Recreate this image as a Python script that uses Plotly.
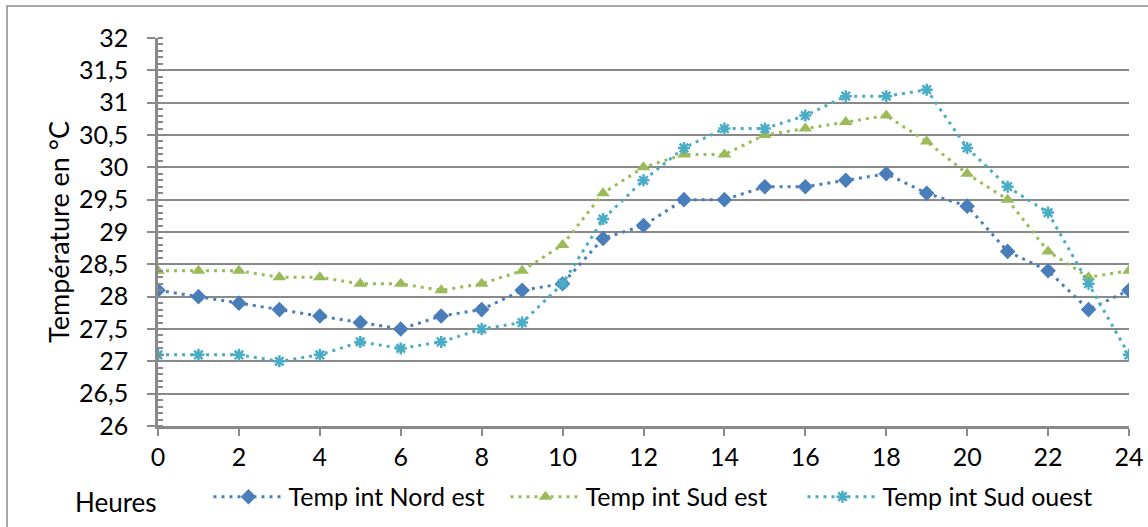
import plotly.graph_objects as go

# données
heures = list(range(0, 25))
nord_est = [28.1, 28.0, 27.9, 27.8, 27.7, 27.6, 27.5, 27.7, 27.8, 28.1, 28.2, 28.9, 29.1,
            29.5, 29.5, 29.7, 29.7, 29.8, 29.9, 29.6, 29.4, 28.7, 28.4, 27.8, 28.1]
sud_est = [28.4, 28.4, 28.4, 28.3, 28.3, 28.2, 28.2, 28.1, 28.2, 28.4, 28.8, 29.6, 30.0,
           30.2, 30.2, 30.5, 30.6, 30.7, 30.8, 30.4, 29.9, 29.5, 28.7, 28.3, 28.4]
sud_ouest = [27.1, 27.1, 27.1, 27.0, 27.1, 27.3, 27.2, 27.3, 27.5, 27.6, 28.2, 29.2, 29.8,
             30.3, 30.6, 30.6, 30.8, 31.1, 31.1, 31.2, 30.3, 29.7, 29.3, 28.2, 27.1]

police = "Lato"
gris = "#898989"
pointille = "3px,5px"

fig = go.Figure()
fig.add_trace(go.Scatter(x=heures, y=nord_est, name="Temp int Nord est", mode="lines+markers",
                         line=dict(color="#4A7EBB", width=3, dash=pointille),
                         marker=dict(symbol="diamond", size=12, color="#4A7EBB")))
fig.add_trace(go.Scatter(x=heures, y=sud_est, name="Temp int Sud est", mode="lines+markers",
                         line=dict(color="#9BBB59", width=3, dash=pointille),
                         marker=dict(symbol="triangle-up", size=12, color="#9BBB59")))
fig.add_trace(go.Scatter(x=heures, y=sud_ouest, name="Temp int Sud ouest", mode="lines+markers",
                         line=dict(color="#4BACC6", width=3, dash=pointille),
                         marker=dict(symbol="asterisk-open", size=10,
                                     line=dict(color="#4BACC6", width=2.5))))

fig.update_layout(
    width=1148, height=527,
    margin=dict(l=158, r=19, t=38, b=101),
    paper_bgcolor="white", plot_bgcolor="white",
    font=dict(family=police, size=25, color="black"),
    separators=", ",
    showlegend=True,
    legend=dict(orientation="h", x=0.052, xanchor="left", yref="container", y=0.057,
                yanchor="middle", font=dict(size=25), entrywidth=212, itemwidth=70),
    xaxis=dict(range=[0, 24], dtick=2, showgrid=False, zeroline=False, automargin=False,
               showline=True, linecolor=gris, linewidth=2.5,
               ticks="outside", ticklen=7, tickwidth=2, tickcolor=gris, ticklabelstandoff=0),
    yaxis=dict(range=[26, 32], dtick=0.5, showgrid=True, gridcolor=gris, gridwidth=2,
               zeroline=False, automargin=False, showline=True, linecolor=gris, linewidth=2.5,
               ticks="outside", ticklen=8, tickwidth=2, tickcolor=gris, ticklabelstandoff=14,
               minor=dict(dtick=0.1, ticks="inside", ticklen=5, tickcolor=gris, tickwidth=1.5,
                          showgrid=False),
               title=dict(text="Température en °C", standoff=2, font=dict(size=27))),
)

fig.add_annotation(text="Heures", xref="paper", yref="paper", x=-0.043, y=-0.196,
                   xanchor="center", yanchor="middle", showarrow=False, font=dict(size=26))

# cadre gris autour du graphique
fig.add_shape(type="rect", xref="paper", yref="paper", x0=-0.1555, x1=1.05, y0=-0.35, y1=1.0825,
              line=dict(color="#8c8c8c", width=1.5), layer="below")

fig.write_html("out.html", config={"displayModeBar": False},
               post_script="document.body.style.margin='0';")
